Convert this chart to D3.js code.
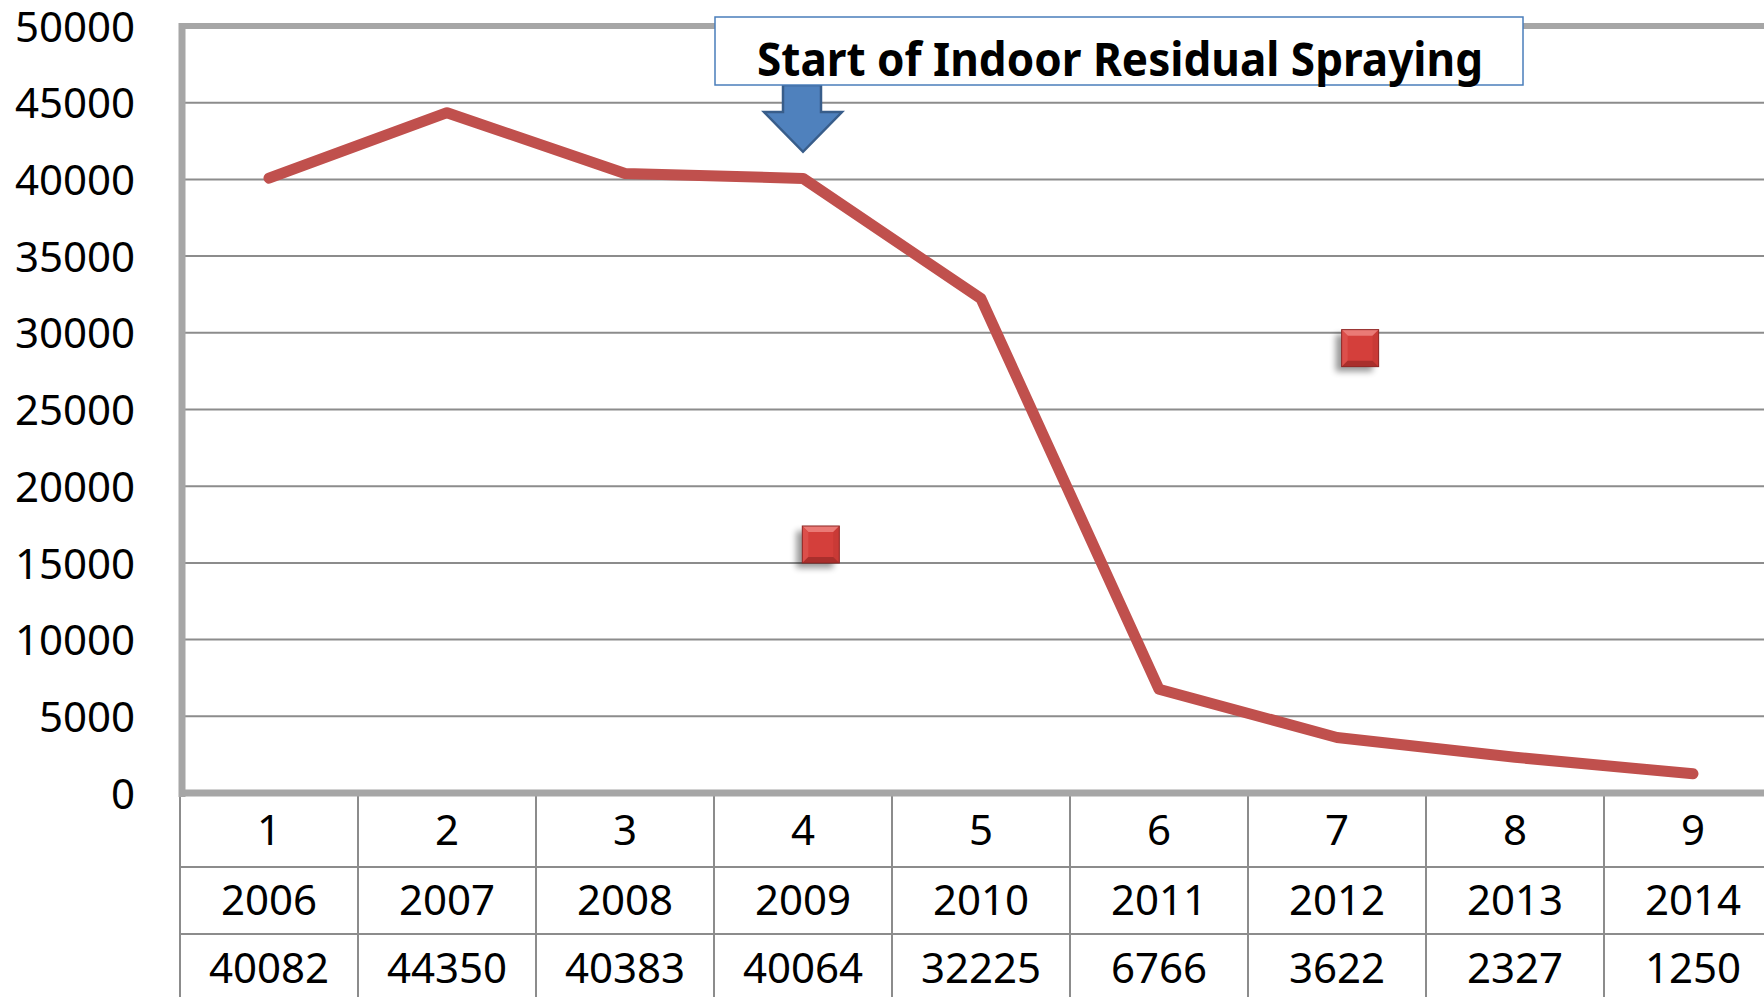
<!DOCTYPE html>
<html>
<head>
<meta charset="utf-8">
<script src="https://cdn.jsdelivr.net/npm/d3@7"></script>
<style>
  html, body { margin: 0; padding: 0; background: #fff; overflow: hidden; }
  svg { display: block; }
</style>
</head>
<body>
<svg id="chart"></svg>
<script>
// table rows / categories
const categories = ['1', '2', '3', '4', '5', '6', '7', '8', '9'];
const years = ['2006', '2007', '2008', '2009', '2010', '2011', '2012', '2013', '2014'];
const cases = [40082, 44350, 40383, 40064, 32225, 6766, 3622, 2327, 1250];

// the two loose square markers
const markerPos = [4.1, 7.13];
const markerVal = [16200, 29000];

const yTicks = [0, 5000, 10000, 15000, 20000, 25000, 30000, 35000, 40000, 45000, 50000];
const annotationText = 'Start of Indoor Residual Spraying';

const dimensions = { width: 1764, height: 997 };
const svg = d3.select('#chart')
  .attr('width', dimensions.width)
  .attr('height', dimensions.height);

const plotLeft = 180, colW = 178;
const plotTop = 26, plotBottom = 793;

// x scale: category index -> pixel (centre of column)
const x = d3.scaleLinear()
  .domain([0.5, 9.5])
  .range([plotLeft, plotLeft + colW * 9]);

// y scale
const y = d3.scaleLinear()
  .domain([0, 50000])
  .range([plotBottom, plotTop]);

const defs = svg.append('defs');
const blur = defs.append('filter').attr('id', 'shadow')
  .attr('x', '-50%').attr('y', '-50%').attr('width', '200%').attr('height', '200%');
blur.append('feGaussianBlur').attr('stdDeviation', 3);

const grey = '#8c8c8c';
const axisGrey = '#a6a6a6';

// gridlines
svg.append('g')
  .selectAll('line')
  .data(yTicks.filter(d => d > 0 && d < 50000))
  .join('line')
  .attr('x1', plotLeft).attr('x2', dimensions.width)
  .attr('y1', d => y(d)).attr('y2', d => y(d))
  .attr('stroke', grey)
  .attr('stroke-width', 2);

// y axis labels
const yAxis = svg.append('g')
  .attr('transform', `translate(${plotLeft - 45},0)`)
  .call(d3.axisLeft(y).tickValues(yTicks).tickSize(0).tickPadding(0).tickFormat(d3.format('d')));
yAxis.select('.domain').remove();
yAxis.selectAll('text')
  .attr('font-family', '"Noto Sans", sans-serif')
  .attr('font-size', 42)
  .attr('fill', '#000')
  .attr('dy', '0.36em');

// table grid
const table = svg.append('g');
[867, 934].forEach(yy => {
  table.append('line')
    .attr('x1', plotLeft).attr('x2', dimensions.width)
    .attr('y1', yy).attr('y2', yy)
    .attr('stroke', grey).attr('stroke-width', 2);
});
table.selectAll('line.col')
  .data(d3.range(0, 10))
  .join('line')
  .attr('class', 'col')
  .attr('x1', d => x(d + 0.5)).attr('x2', d => x(d + 0.5))
  .attr('y1', plotBottom).attr('y2', dimensions.height)
  .attr('stroke', grey).attr('stroke-width', 2);

// table text
const rows = [
  { vals: categories, base: 845 },
  { vals: years, base: 915 },
  { vals: cases.map(String), base: 983 }
];
rows.forEach(r => {
  table.append('g')
    .selectAll('text')
    .data(r.vals)
    .join('text')
    .attr('x', (d, i) => x(i + 1))
    .attr('y', r.base)
    .attr('text-anchor', 'middle')
    .attr('font-family', '"Noto Sans", sans-serif')
    .attr('font-size', 42)
    .attr('fill', '#000')
    .text(d => d);
});

// plot frame: top, left and bottom
svg.append('line')
  .attr('x1', plotLeft).attr('x2', dimensions.width)
  .attr('y1', plotTop).attr('y2', plotTop)
  .attr('stroke', axisGrey).attr('stroke-width', 6);
svg.append('line')
  .attr('x1', plotLeft + 2).attr('x2', plotLeft + 2)
  .attr('y1', plotTop - 3).attr('y2', plotBottom + 4)
  .attr('stroke', axisGrey).attr('stroke-width', 7);
svg.append('line')
  .attr('x1', plotLeft - 1).attr('x2', dimensions.width)
  .attr('y1', plotBottom).attr('y2', plotBottom)
  .attr('stroke', axisGrey).attr('stroke-width', 7);

// the line
const line = d3.line()
  .x((d, i) => x(i + 1))
  .y(d => y(d));

svg.append('path')
  .datum(cases)
  .attr('d', line)
  .attr('fill', 'none')
  .attr('stroke', '#c0504d')
  .attr('stroke-width', 11)
  .attr('stroke-linejoin', 'round')
  .attr('stroke-linecap', 'round');

// bevelled square markers
const s = 37, b = 6;
const markers = svg.append('g')
  .selectAll('g')
  .data(markerPos.map((p, i) => ({ p, v: markerVal[i] })))
  .join('g')
  .attr('transform', d => `translate(${x(d.p) - s / 2},${y(d.v) - s / 2})`);

markers.append('rect')
  .attr('x', -6).attr('y', 5).attr('width', s).attr('height', s)
  .attr('fill', '#000').attr('opacity', 0.4)
  .attr('filter', 'url(#shadow)');
markers.append('rect')
  .attr('width', s).attr('height', s)
  .attr('fill', '#d43f3b');
markers.append('path') // top bevel
  .attr('d', `M0,0 L${s},0 L${s - b},${b} L${b},${b} Z`)
  .attr('fill', '#ea7a76');
markers.append('path') // left bevel
  .attr('d', `M0,0 L${b},${b} L${b},${s - b} L0,${s} Z`)
  .attr('fill', '#dc4f4b');
markers.append('path') // right bevel
  .attr('d', `M${s},0 L${s},${s} L${s - b},${s - b} L${s - b},${b} Z`)
  .attr('fill', '#c93a36');
markers.append('path') // bottom bevel
  .attr('d', `M0,${s} L${b},${s - b} L${s - b},${s - b} L${s},${s} Z`)
  .attr('fill', '#a92f2c');
markers.append('rect')
  .attr('width', s).attr('height', s)
  .attr('fill', 'none')
  .attr('stroke', '#8e2725').attr('stroke-width', 1);

// annotation box with arrow
const ann = svg.append('g');
const ax = x(4);
ann.append('path')
  .attr('d', `M${ax - 20},85 L${ax + 18},85 L${ax + 18},112 L${ax + 39},112 L${ax},${y(41800)} L${ax - 39},112 L${ax - 20},112 Z`)
  .attr('fill', '#4f81bd')
  .attr('stroke', '#385d8a')
  .attr('stroke-width', 2.5)
  .attr('stroke-linejoin', 'miter');

ann.append('rect')
  .attr('x', 715).attr('y', 17)
  .attr('width', 808).attr('height', 68)
  .attr('fill', '#fff')
  .attr('stroke', '#4a7ebb')
  .attr('stroke-width', 1.5);

const annText = ann.append('text')
  .attr('x', 757).attr('y', 76)
  .attr('font-family', '"Liberation Sans Narrow", "Noto Sans", sans-serif')
  .attr('font-weight', 'bold')
  .attr('font-size', 47)
  .attr('fill', '#000')
  .text(annotationText);

const want = 726;
const got = annText.node().getComputedTextLength();
if (Math.abs(got - want) > 4) {
  annText.attr('textLength', want).attr('lengthAdjust', 'spacingAndGlyphs');
}
</script>
</body>
</html>
